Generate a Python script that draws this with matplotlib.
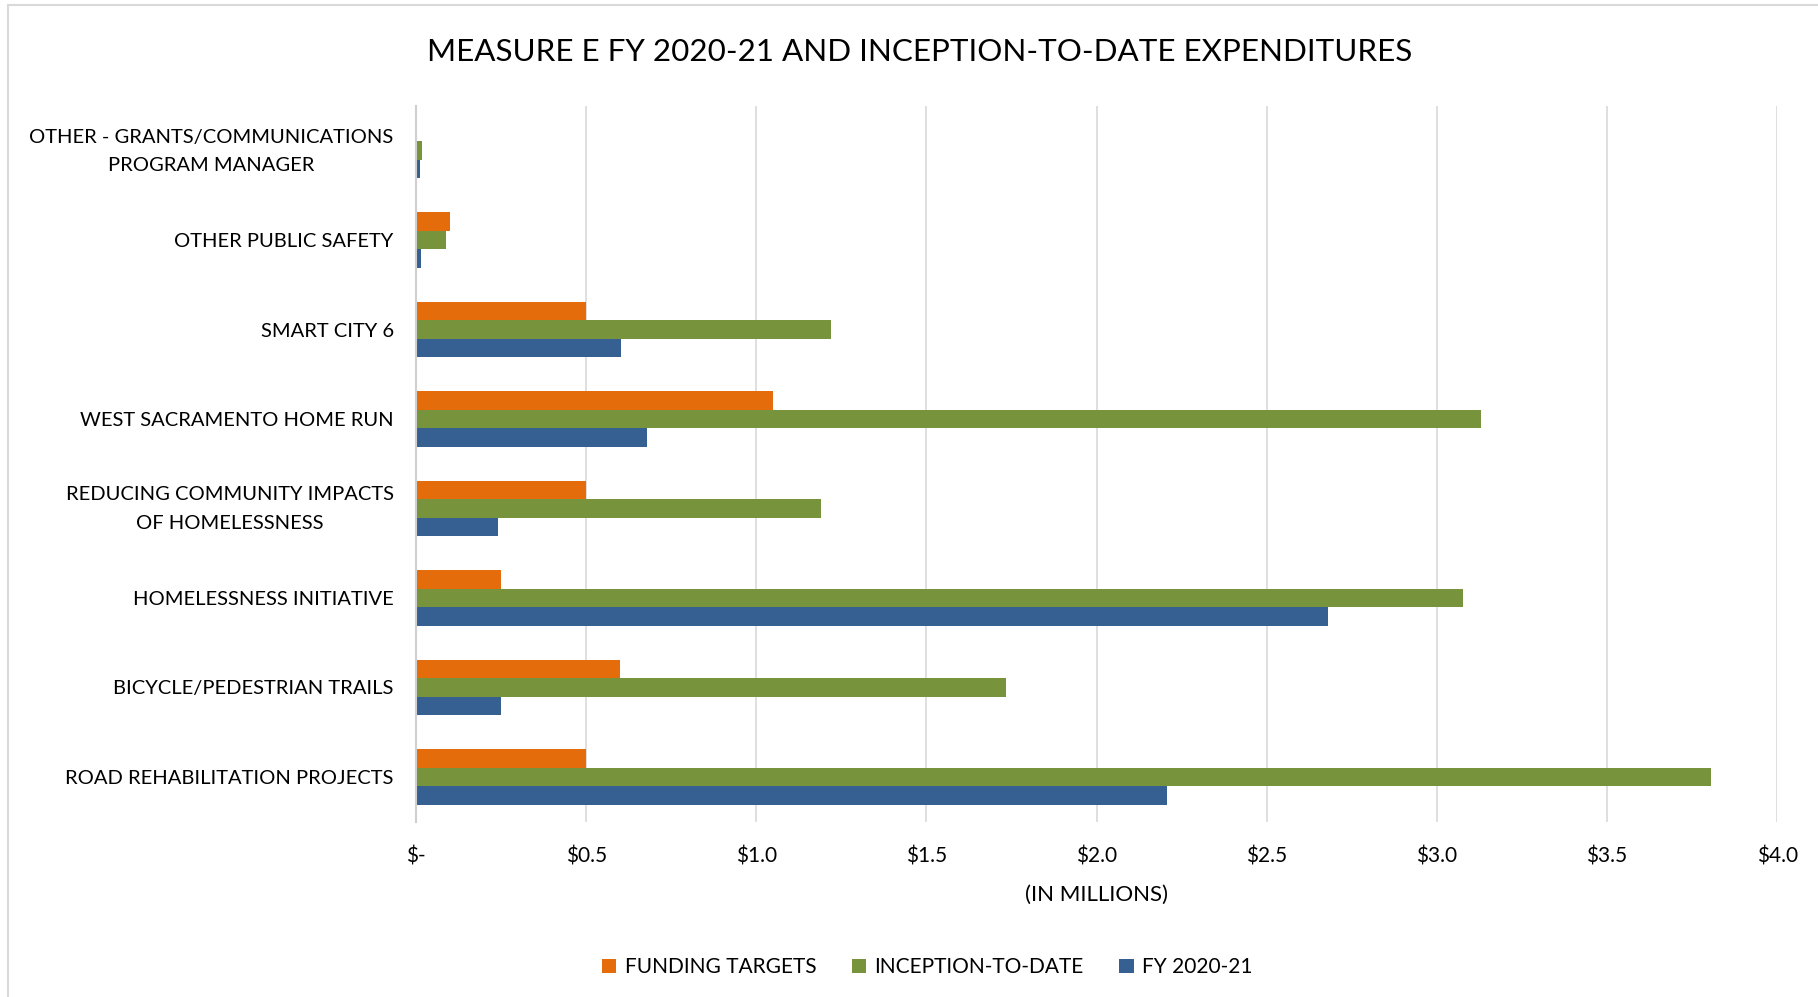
import matplotlib
matplotlib.use("Agg")
import matplotlib.pyplot as plt
import numpy as np
from matplotlib.patches import Rectangle

plt.rcParams['font.family'] = ['Lato', 'DejaVu Sans']

categories = [
    "OTHER - GRANTS/COMMUNICATIONS\nPROGRAM MANAGER",
    "OTHER PUBLIC SAFETY",
    "SMART CITY 6",
    "WEST SACRAMENTO HOME RUN",
    "REDUCING COMMUNITY IMPACTS\nOF HOMELESSNESS",
    "HOMELESSNESS INITIATIVE",
    "BICYCLE/PEDESTRIAN TRAILS",
    "ROAD REHABILITATION PROJECTS",
]
funding_targets = [0.0, 0.10, 0.50, 1.05, 0.50, 0.25, 0.60, 0.50]
inception_to_date = [0.017, 0.089, 1.22, 3.13, 1.19, 3.077, 1.734, 3.806]
fy_2020_21 = [0.012, 0.016, 0.603, 0.678, 0.242, 2.68, 0.249, 2.208]

x_ticks = [0, 0.5, 1.0, 1.5, 2.0, 2.5, 3.0, 3.5, 4.0]
x_tick_labels = ["$-", "$0.5", "$1.0", "$1.5", "$2.0", "$2.5", "$3.0", "$3.5", "$4.0"]

series = [
    ("FUNDING TARGETS", funding_targets, "#E46C0A"),
    ("INCEPTION-TO-DATE", inception_to_date, "#77933C"),
    ("FY 2020-21", fy_2020_21, "#376092"),
]

fig = plt.figure(figsize=(18.18, 9.97), dpi=100)
ax = fig.add_axes([0.2288, 0.176, 0.9775 - 0.2288, 0.8937 - 0.176])

y = np.arange(len(categories))
h = 0.207
for i, (name, vals, color) in enumerate(series):
    ax.barh(y + (i - 1) * h, vals, height=h, color=color, label=name, zorder=3)

ax.set_ylim(len(categories) - 0.5, -0.5)
ax.set_yticks(y)
# one-line labels go on the axis, two-line ones are placed by hand
ax.set_yticklabels(["" if "\n" in c else c for c in categories], fontsize=14.5)
for yi, c in zip(y, categories):
    if "\n" in c:
        ax.annotate(c, xy=(0, yi), xycoords=("axes fraction", "data"),
                    xytext=(-16, -0.5), textcoords="offset points",
                    ha="right", va="center", multialignment="center",
                    fontsize=14.5, linespacing=1.82)

ax.set_xlim(0, 4.0)
ax.set_xticks(x_ticks)
ax.set_xticklabels(x_tick_labels, fontsize=15)
ax.tick_params(axis="x", length=0, pad=18)
ax.tick_params(axis="y", length=0, pad=16)
ax.grid(axis="x", color="#d9d9d9", linewidth=1.2, zorder=0)
for s in ["top", "right", "bottom"]:
    ax.spines[s].set_visible(False)
ax.spines["left"].set_color("#d0d0d0")
ax.spines["left"].set_linewidth(1.5)
ax.spines["left"].set_zorder(4)

ax.set_xlabel("(IN MILLIONS)", fontsize=16, labelpad=13)
fig.text(0.506, 0.948, "MEASURE E FY 2020-21 AND INCEPTION-TO-DATE EXPENDITURES",
         ha="center", va="center", fontsize=22.6)

fig.legend(loc="center", bbox_to_anchor=(0.51, 0.03), ncol=3, frameon=False,
           fontsize=15, handlelength=0.7, handleheight=0.7, columnspacing=1.7,
           handletextpad=0.4)

fig.patches.append(Rectangle((0.0045, -0.01), 1.1, 1.005, transform=fig.transFigure,
                             fill=False, edgecolor="#d9d9d9", linewidth=1.5))

fig.savefig("out.png", dpi=100, facecolor="white")
